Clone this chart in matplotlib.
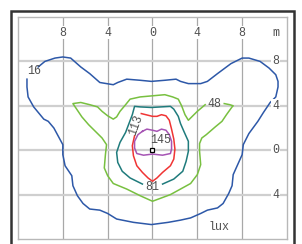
import matplotlib
matplotlib.use("Agg")
import matplotlib.pyplot as plt
from matplotlib.patches import Rectangle

# isolux lines, metres from the luminaire
blue_x = [-10.2, -9.6, -8.7, -8.0, -7.3, -6.4, -5.6, -4.7, -3.5, -3.1, -2.3, -1.1, -0.1, 1.1, 2.1, 2.5,
          3.2, 4.3, 4.9, 5.8, 7.0, 8.0, 8.6, 9.6, 10.4, 11.0, 11.2, 11.2, 11.0, 10.5, 9.9, 9.4, 8.6,
          8.1, 8.0, 7.6, 7.2, 7.1, 6.8, 6.3, 5.8, 4.9, 4.3, 3.4, 2.5, 1.4, -0.1, -1.7, -3.2, -4.0,
          -4.7, -5.6, -6.2, -6.7, -7.1, -7.2, -7.8, -8.0, -8.0, -8.8, -9.3, -9.7, -10.6, -11.1,
          -11.2, -11.2]
blue_y = [7.5, 8.0, 8.3, 8.4, 8.3, 7.5, 6.9, 6.1, 5.9, 6.1, 6.4, 6.3, 6.2, 6.3, 6.4, 6.2,
          6.0, 6.0, 6.2, 6.9, 7.8, 8.3, 8.3, 8.0, 7.4, 6.8, 6.2, 5.7, 4.8, 4.3, 3.4, 2.6, 1.5,
          0.5, -0.4, -1.3, -2.2, -3.2, -3.9, -4.8, -5.2, -5.4, -5.7, -6.1, -6.3, -6.5, -6.7, -6.5,
          -6.2, -5.7, -5.4, -5.3, -4.8, -4.1, -3.2, -2.3, -1.4, -0.4, 0.5, 2.0, 2.6, 2.8, 3.9, 4.8,
          5.7, 6.4]

green_x = [6.4, 6.9, 7.2, 7.1, 6.6, 6.2, 5.6, 4.8, 4.4, 4.2, 4.2, 4.3, 4.0, 3.4, 2.5, 1.6, 0.8,
           0.0, -1.1, -2.3, -3.5, -4.0, -4.3, -4.2, -4.1, -4.5, -5.1, -5.7, -6.3, -6.7, -7.1, -6.4,
           -5.6, -4.9, -4.5, -4.0, -3.5, -3.2, -2.9, -2.4, -2.0, -1.1, 0.0, 1.1, 1.8, 2.3, 2.6,
           2.9, 3.2, 3.5, 4.0, 4.7]
green_y = [4.2, 4.1, 4.0, 3.9, 3.2, 2.6, 2.1, 1.4, 1.1, 0.6, -0.1, -1.3, -2.2, -3.0, -3.5, -4.0,
           -4.3, -4.6, -4.1, -3.5, -3.0, -2.3, -1.6, -0.4, 0.5, 1.1, 1.7, 2.3, 3.0, 3.6, 4.2, 4.3,
           4.1, 3.9, 3.5, 3.1, 2.8, 3.0, 3.5, 4.1, 4.6, 4.8, 4.9, 5.0, 4.8, 4.6, 4.0, 3.2, 2.7,
           3.0, 3.5, 4.1]

teal_x = [-0.9, -2.0, -2.7, -3.1, -3.2, -2.9, -2.4, -2.1, -1.8, -1.6, -1.1, -0.1, 1.6, 1.9,
          2.3, 2.5, 2.8, 3.2, 3.2, 3.0, 2.7, 1.9, 0.9]
teal_y = [-3.05, -2.5, -1.9, -1.1, -0.2, 0.7, 1.6, 2.4, 3.2, 3.95, 3.9, 3.85, 3.95, 3.7,
          3.05, 2.4, 1.7, 0.8, -0.1, -1.0, -1.9, -2.6, -3.05]

red_x = [-1.0, -0.6, 0.0, 0.4, 0.8, 1.2, 1.5, 1.7, 1.9, 2.0, 1.9, 1.6, 0.9, 0.4, 0.0, -0.4,
         -0.9, -1.4, -1.7, -1.8, -1.6]
red_y = [3.3, 3.2, 3.05, 3.05, 3.2, 3.1, 2.7, 1.9, 1.0, 0.1, -0.8, -1.4, -2.0, -2.5, -2.8, -2.5,
         -2.0, -1.4, -0.5, 0.4, 1.3]

purple_x = [-0.9, -0.5, 0.0, 0.4, 0.8, 1.2, 1.5, 1.7, 1.7, 1.6, 0.9, 0.0, -0.8, -1.4, -1.6,
            -1.6, -1.3, -0.9]
purple_y = [1.7, 1.9, 1.8, 1.7, 1.9, 1.8, 1.4, 0.8, 0.1, -0.3, -0.45, -0.35, -0.45, -0.3, 0.2,
            0.8, 1.4, 1.7]

levels = ["16", "48", "81", "113", "145"]
label_x = [-10.6, 5.5, 0.0, -1.45, 0.7]
label_y = [7.1, 4.2, -3.35, 2.25, 0.9]
label_rot = [0, 0, 0, 70, 0]

tick_vals = [-8, -4, 0, 4, 8]
x_tick_labels = ["8", "4", "0", "4", "8"]
y_tick_vals = [8, 4, 0, -4]
y_tick_labels = ["8", "4", "0", "4"]

fig = plt.figure(figsize=(3.02, 2.44), dpi=100)
ax = fig.add_axes([0.0596, 0.0205, 0.8907, 0.9098])
ax.set_xlim(-12, 12)
ax.set_ylim(-8, 12)
ax.set_xticks([])
ax.set_yticks([])
for s in ax.spines.values():
    s.set_color("#b8b8b8")
    s.set_linewidth(1.0)

for v in tick_vals:
    ax.axvline(v, color="#a8a8a8", lw=0.9, zorder=1)
for v in y_tick_vals:
    ax.axhline(v, color="#cfcfcf", lw=1.6, zorder=1)

mono = "Liberation Mono"
tcol = "#505050"
fs = 8.4
box = dict(facecolor="white", edgecolor="none", pad=0.6)
for v, t in zip(tick_vals, x_tick_labels):
    ax.text(v, 10.6, t, ha="center", va="center", fontsize=fs, family=mono,
            color=tcol, bbox=box, zorder=3)
ax.text(11.0, 10.6, "m", ha="center", va="center", fontsize=fs, family=mono,
        color=tcol, zorder=3)
for v, t in zip(y_tick_vals, y_tick_labels):
    ax.text(11.0, v, t, ha="center", va="center", fontsize=fs, family=mono,
            color=tcol, bbox=box, zorder=3)

lw = 1.1
ax.plot(blue_x, blue_y, color="#2d58a8", lw=lw, zorder=2)
ax.plot(green_x, green_y, color="#78c040", lw=lw, zorder=2)
ax.plot(teal_x, teal_y, color="#1f7b7c", lw=lw, zorder=2)
ax.plot(red_x, red_y, color="#f03434", lw=lw, zorder=2)
ax.plot(purple_x, purple_y, color="#a655b4", lw=lw, zorder=2)

for t, x, y, r in zip(levels, label_x, label_y, label_rot):
    ax.text(x, y, t, ha="center", va="center", rotation=r, fontsize=fs,
            family=mono, color=tcol, zorder=3)

ax.plot([0], [0], marker="s", ms=3.5, mfc="white", mec="black", mew=0.9, zorder=4)
ax.text(5.9, -6.9, "lux", ha="center", va="center", fontsize=fs, family=mono,
        color=tcol, zorder=3)

# outer frame, runs off the bottom of the image
fig.patches.append(Rectangle((11 / 302, -0.1), 283 / 302, 1 - 11 / 244 + 0.1,
                             transform=fig.transFigure, fill=False,
                             edgecolor="#333333", lw=1.8))

fig.savefig("out.png", dpi=100)
